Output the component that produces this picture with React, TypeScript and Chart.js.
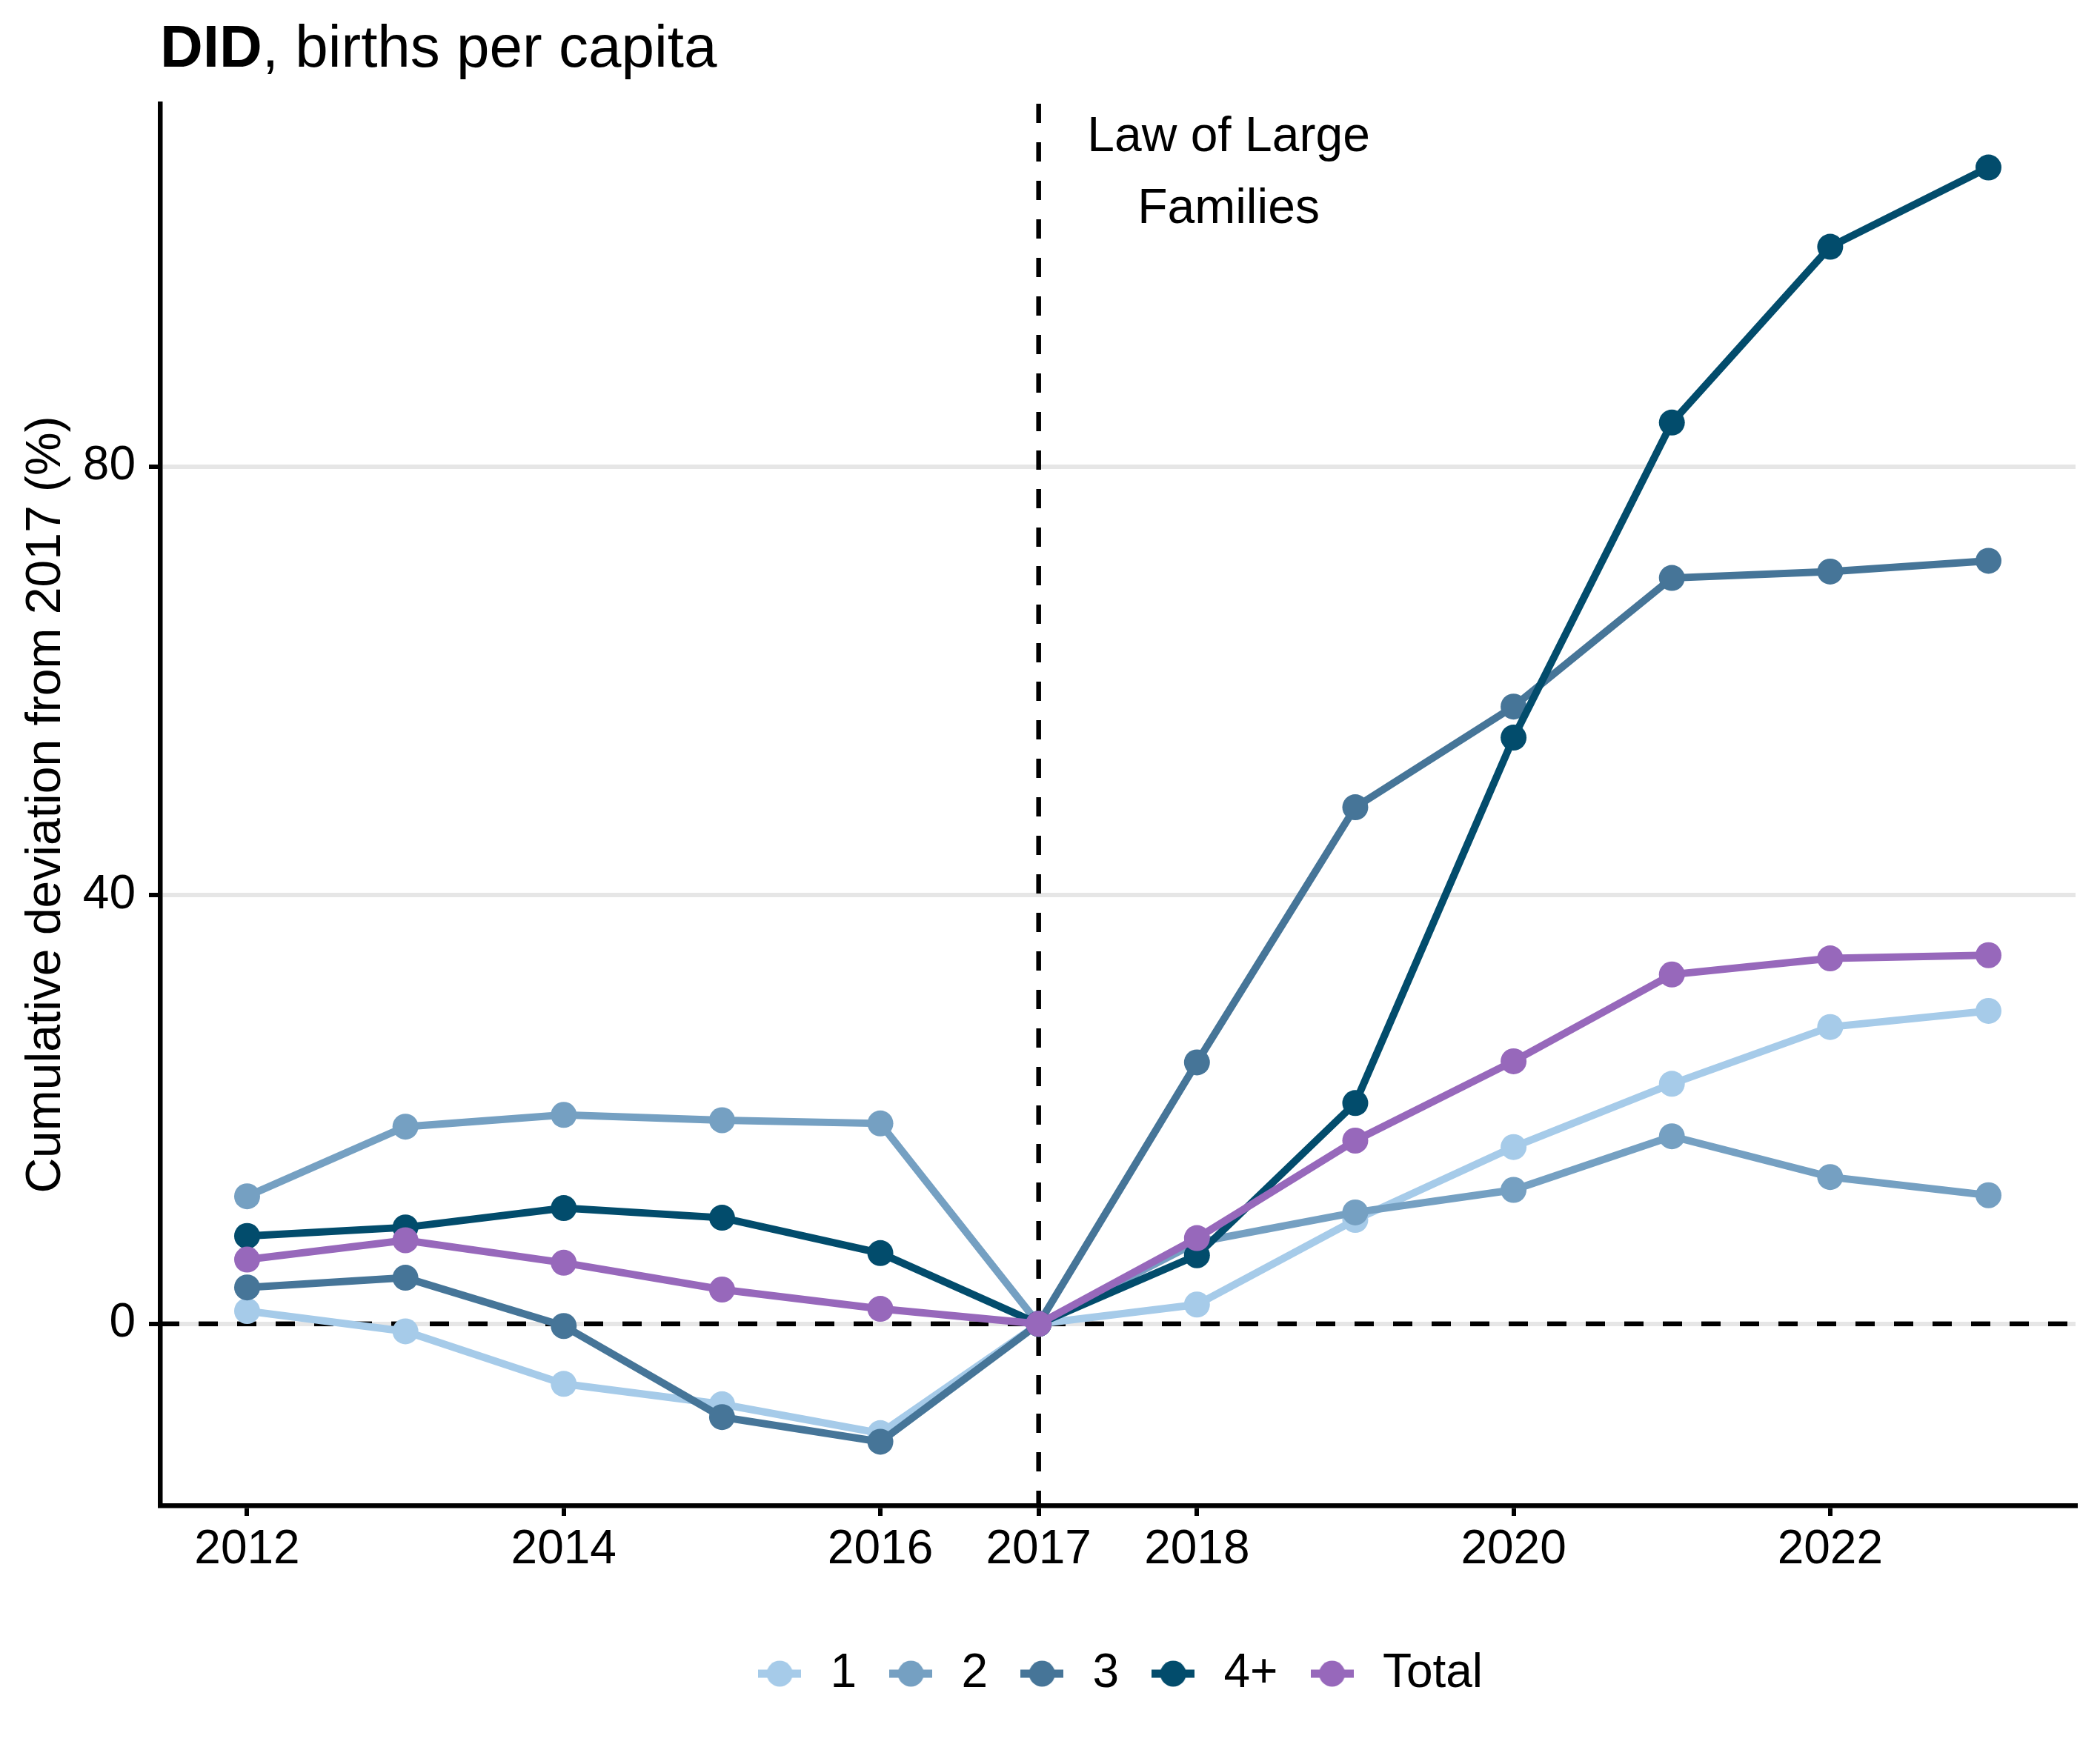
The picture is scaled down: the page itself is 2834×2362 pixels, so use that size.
import React, { useEffect, useRef } from "react";
import { Chart, registerables } from "chart.js";

Chart.register(...registerables);

// ---------- data ----------
const years = [2012, 2013, 2014, 2015, 2016, 2017, 2018, 2019, 2020, 2021, 2022, 2023];
const seriesNames = ["1", "2", "3", "4+", "Total"];
const series1 = [1.2, -0.7, -5.6, -7.5, -10.2, 0, 1.8, 9.7, 16.5, 22.4, 27.7, 29.2];
const series2 = [11.9, 18.4, 19.5, 19.0, 18.7, 0, 7.6, 10.4, 12.5, 17.5, 13.7, 12.0];
const series3 = [3.4, 4.3, -0.2, -8.7, -11.0, 0, 24.4, 48.2, 57.6, 69.6, 70.2, 71.2];
const series4 = [8.2, 9.0, 10.8, 9.9, 6.6, 0, 6.4, 20.6, 54.7, 84.1, 100.5, 107.9];
const seriesTotal = [6.0, 7.8, 5.7, 3.2, 1.4, 0, 8.0, 17.1, 24.5, 32.6, 34.1, 34.4];
const seriesColors = ["#a6cbe9", "#75a0c2", "#467598", "#024c6c", "#9768bb"];

const xTickValues = [2012, 2014, 2016, 2017, 2018, 2020, 2022];
const yTickValues = [0, 40, 80];
const xLimits = [2011.45, 2023.55];
const yLimits = [-16.95, 113.85];
const policyYear = 2017;

const titleBold = "DID";
const titleRest = ", births per capita";
const yAxisTitle = "Cumulative deviation from 2017 (%)";
const annotationLines = ["Law of Large", "Families"];
const annotationX = 2018.2;
const annotationY = 107.9;

const FONT = "'Liberation Sans', Arial, Helvetica, sans-serif";
const W = 2834;
const H = 2362;

function makeKey(color: string): HTMLCanvasElement {
  const c = document.createElement("canvas");
  c.width = 58;
  c.height = 36;
  const g = c.getContext("2d")!;
  g.fillStyle = color;
  g.fillRect(0, 18 - 5.5, 58, 11);
  g.beginPath();
  g.arc(29, 18, 17.5, 0, Math.PI * 2);
  g.fill();
  return c;
}

const decorPlugin = {
  id: "decor",
  beforeDatasetsDraw(chart: any) {
    const { ctx, chartArea, scales } = chart;
    const x = scales.x;
    const y = scales.y;
    ctx.save();
    ctx.strokeStyle = "#000";
    ctx.lineWidth = 6.5;
    ctx.lineCap = "butt";
    ctx.setLineDash([26, 26]);
    const y0 = y.getPixelForValue(0);
    ctx.beginPath();
    ctx.moveTo(chartArea.left, y0);
    ctx.lineTo(chartArea.right, y0);
    ctx.stroke();
    const x0 = x.getPixelForValue(policyYear);
    ctx.beginPath();
    ctx.moveTo(x0, chartArea.top);
    ctx.lineTo(x0, chartArea.bottom);
    ctx.stroke();
    ctx.restore();
  },
  afterDraw(chart: any) {
    const { ctx, chartArea, scales } = chart;
    ctx.save();
    ctx.fillStyle = "#000";
    ctx.textBaseline = "alphabetic";
    ctx.textAlign = "left";
    ctx.font = `bold 80px ${FONT}`;
    const tx = chartArea.left;
    const ty = 90;
    ctx.fillText(titleBold, tx, ty);
    const bw = ctx.measureText(titleBold).width;
    ctx.font = `80px ${FONT}`;
    ctx.fillText(titleRest, tx + bw, ty);
    ctx.font = `66px ${FONT}`;
    ctx.textAlign = "center";
    const ax = scales.x.getPixelForValue(annotationX);
    const ay = scales.y.getPixelForValue(annotationY);
    ctx.fillText(annotationLines[0], ax, ay - 22);
    ctx.fillText(annotationLines[1], ax, ay + 75);
    ctx.restore();
  },
};

export default function App() {
  const ref = useRef<HTMLCanvasElement | null>(null);
  useEffect(() => {
    document.body.style.margin = "0";
    document.body.style.overflow = "hidden";
    const canvas = ref.current!;
    const all = [series1, series2, series3, series4, seriesTotal];
    const keys = seriesColors.map(makeKey);
    const datasets = all.map((vals, i) => ({
      label: seriesNames[i],
      data: years.map((yr, j) => ({ x: yr, y: vals[j] })),
      borderColor: seriesColors[i],
      backgroundColor: seriesColors[i],
      pointBackgroundColor: seriesColors[i],
      pointBorderWidth: 0,
      pointRadius: 17.5,
      pointHoverRadius: 17.5,
      borderWidth: 10,
      tension: 0,
      order: all.length - 1 - i,
      clip: false as any,
    }));
    const chart = new Chart(canvas, {
      type: "line",
      data: { datasets },
      plugins: [decorPlugin],
      options: {
        animation: false,
        responsive: false,
        devicePixelRatio: 1,
        parsing: false as any,
        layout: { padding: { top: 140, right: 33, bottom: 61, left: 0 } },
        font: { family: FONT },
        plugins: {
          title: { display: false },
          tooltip: { enabled: false },
          legend: {
            display: true,
            position: "bottom",
            fullSize: false,
            align: "center",
            labels: {
              usePointStyle: true,
              pointStyleWidth: 72.6,
              padding: 36.8,
              color: "#000",
              font: { size: 64, family: FONT },
              sort: (a: any, b: any) => a.datasetIndex - b.datasetIndex,
              generateLabels: (ch: any) => {
                const items = Chart.defaults.plugins.legend.labels.generateLabels(ch);
                return items.map((it: any) => ({ ...it, pointStyle: keys[it.datasetIndex], fontColor: "#000" }));
              },
            },
          },
        },
        scales: {
          x: {
            type: "linear",
            min: xLimits[0],
            max: xLimits[1],
            afterBuildTicks: (s: any) => {
              s.ticks = xTickValues.map((v) => ({ value: v }));
            },
            afterFit: (s: any) => {
              s.height = 158.2;
            },
            ticks: {
              callback: (v: any) => String(v),
              color: "#000",
              font: { size: 64, family: FONT },
              padding: 8,
              maxRotation: 0,
              autoSkip: false,
            },
            grid: {
              drawOnChartArea: false,
              color: "#000",
              tickColor: "#000",
              tickLength: 14,
              tickWidth: 6,
              lineWidth: 6,
            },
            border: { display: true, color: "#000", width: 6.5 },
          },
          y: {
            type: "linear",
            min: yLimits[0],
            max: yLimits[1],
            afterBuildTicks: (s: any) => {
              s.ticks = yTickValues.map((v) => ({ value: v }));
            },
            afterFit: (s: any) => {
              s.width = 216;
            },
            ticks: {
              callback: (v: any) => String(v),
              color: "#000",
              font: { size: 64, family: FONT },
              padding: 18,
            },
            grid: {
              drawOnChartArea: true,
              color: "#e6e6e6",
              lineWidth: 6,
              tickColor: "#000",
              tickLength: 15,
              tickWidth: 6,
            },
            border: { display: true, color: "#000", width: 6.5 },
            title: {
              display: true,
              text: yAxisTitle,
              color: "#000",
              font: { size: 66, family: FONT },
              padding: { top: 23, bottom: 0 },
            },
          },
        },
      } as any,
    });
    return () => chart.destroy();
  }, []);
  return (
    <div style={{ width: W, height: H, background: "#fff" }}>
      <canvas ref={ref} width={W} height={H} style={{ width: W, height: H, display: "block" }} />
    </div>
  );
}
